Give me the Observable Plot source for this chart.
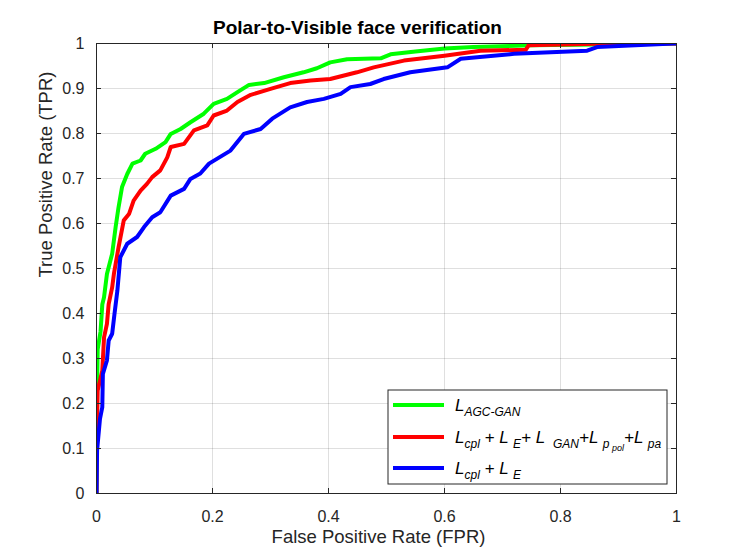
<!DOCTYPE html>
<html><head><meta charset="utf-8">
<script src="https://cdn.jsdelivr.net/npm/d3@7"></script>
<script src="https://cdn.jsdelivr.net/npm/@observablehq/plot@0.6"></script>
<style>
html,body{margin:0;padding:0;background:#fff}
#chart svg{display:block}
</style>
</head><body><div id="chart"></div>
<script>
// ---- data ----
const titleText = "Polar-to-Visible face verification";
const xLabelText = "False Positive Rate (FPR)";
const yLabelText = "True Positive Rate (TPR)";
const xTicks = [0, 0.2, 0.4, 0.6, 0.8, 1];
const yTicks = [0, 0.1, 0.2, 0.3, 0.4, 0.5, 0.6, 0.7, 0.8, 0.9, 1];
const seriesColors = ["#00ff00", "#ff0000", "#0000ff"];

const greenFPR = [0, 0, 0.001, 0.002, 0.007, 0.010, 0.013, 0.018, 0.027, 0.033, 0.038, 0.044, 0.053, 0.062, 0.076, 0.084, 0.102, 0.119, 0.128, 0.145, 0.162, 0.185, 0.202, 0.225, 0.243, 0.263, 0.289, 0.323, 0.357, 0.380, 0.403, 0.432, 0.490, 0.507, 0.550, 0.600, 0.650, 0.750, 0.860, 1];
const greenTPR = [0, 0.18, 0.23, 0.32, 0.36, 0.42, 0.436, 0.488, 0.533, 0.592, 0.636, 0.681, 0.710, 0.733, 0.740, 0.755, 0.766, 0.781, 0.799, 0.810, 0.825, 0.844, 0.866, 0.877, 0.892, 0.908, 0.912, 0.925, 0.936, 0.945, 0.958, 0.965, 0.967, 0.976, 0.982, 0.989, 0.992, 0.996, 0.998, 1];

const redFPR = [0, 0, 0.002, 0.010, 0.013, 0.018, 0.021, 0.027, 0.030, 0.038, 0.047, 0.056, 0.064, 0.076, 0.087, 0.096, 0.110, 0.122, 0.128, 0.151, 0.168, 0.191, 0.202, 0.225, 0.243, 0.266, 0.300, 0.334, 0.369, 0.403, 0.449, 0.478, 0.530, 0.600, 0.662, 0.740, 0.745, 0.880, 1];
const redTPR = [0, 0.09, 0.229, 0.273, 0.347, 0.377, 0.421, 0.458, 0.488, 0.547, 0.607, 0.621, 0.651, 0.673, 0.688, 0.703, 0.718, 0.747, 0.770, 0.777, 0.807, 0.818, 0.840, 0.851, 0.870, 0.886, 0.899, 0.912, 0.918, 0.921, 0.936, 0.947, 0.962, 0.973, 0.984, 0.986, 0.996, 1.0, 1];

const blueFPR = [0, 0.001, 0.006, 0.010, 0.011, 0.018, 0.021, 0.027, 0.031, 0.036, 0.041, 0.053, 0.070, 0.082, 0.096, 0.110, 0.128, 0.151, 0.162, 0.179, 0.194, 0.231, 0.254, 0.283, 0.303, 0.334, 0.363, 0.392, 0.421, 0.438, 0.472, 0.495, 0.541, 0.605, 0.628, 0.720, 0.846, 0.863, 0.995, 1];
const blueTPR = [0, 0.096, 0.166, 0.192, 0.266, 0.296, 0.340, 0.355, 0.399, 0.451, 0.525, 0.555, 0.570, 0.592, 0.614, 0.625, 0.662, 0.677, 0.699, 0.711, 0.733, 0.762, 0.799, 0.810, 0.833, 0.858, 0.870, 0.877, 0.888, 0.903, 0.910, 0.921, 0.936, 0.947, 0.966, 0.977, 0.984, 0.992, 1.0, 1];

// legend labels as [text, level] segments (0 = normal, 1 = subscript, 2 = sub-subscript)
const legendLabels = [
  [["L", 0], ["AGC-GAN", 1]],
  [["L", 0], ["cpl", 1], [" + L ", 0], ["E", 1], ["+ L ", 0], [" GAN", 1], ["+L ", 0], ["p", 1], [" pol", 2], ["+L ", 0], ["pa", 1]],
  [["L", 0], ["cpl", 1], [" + L ", 0], ["E", 1]]
];

// ---- build ----
const toRows = (xs, ys) => xs.map((x, i) => ({fpr: x, tpr: ys[i]}));
const seriesRows = [toRows(greenFPR, greenTPR), toRows(redFPR, redTPR), toRows(blueFPR, blueTPR)];

const W = 747, H = 554, mL = 96, mR = 71, mT = 43, mB = 61;
const fw = W - mL - mR, fh = H - mT - mB;
const axisColor = "#262626";
const font = "'Liberation Sans', Arial, Helvetica, sans-serif";
const fmt = d => String(+d.toFixed(1));

const plot = Plot.plot({
  width: W, height: H,
  marginLeft: mL, marginRight: mR, marginTop: mT, marginBottom: mB,
  style: {fontFamily: font, background: "#fff", color: axisColor, overflow: "visible"},
  x: {domain: [0, 1]},
  y: {domain: [0, 1]},
  marks: [
    Plot.gridX(xTicks, {stroke: axisColor, strokeOpacity: 0.15, strokeWidth: 1}),
    Plot.gridY(yTicks, {stroke: axisColor, strokeOpacity: 0.15, strokeWidth: 1}),
    ...seriesRows.map((rows, i) => Plot.line(rows, {x: "fpr", y: "tpr", stroke: seriesColors[i], strokeWidth: 4, clip: true})),
    Plot.frame({stroke: axisColor, strokeWidth: 1}),
    Plot.tickX(xTicks, {x: d => d, insetTop: fh - 5, stroke: axisColor}),
    Plot.tickX(xTicks, {x: d => d, insetBottom: fh - 5, stroke: axisColor}),
    Plot.tickY(yTicks, {y: d => d, insetRight: fw - 5, stroke: axisColor}),
    Plot.tickY(yTicks, {y: d => d, insetLeft: fw - 5, stroke: axisColor}),
    Plot.axisX(xTicks, {tickSize: 0, tickPadding: 17, fontSize: 16, label: null, tickFormat: fmt, fill: axisColor}),
    Plot.axisY(yTicks, {tickSize: 0, tickPadding: 12, fontSize: 16, label: null, tickFormat: fmt, fill: axisColor}),
    Plot.text([titleText], {frameAnchor: "top", dy: -16, dx: -29, fontSize: 19, fontWeight: "bold", lineAnchor: "middle", fill: "#000"}),
    Plot.text([xLabelText], {frameAnchor: "bottom", dy: 44, dx: -8, fontSize: 18.5, lineAnchor: "middle", fill: axisColor}),
    Plot.text([yLabelText], {frameAnchor: "left", dx: -50, dy: 9, rotate: -90, fontSize: 18.5, lineAnchor: "middle", fill: axisColor})
  ]
});

// ---- legend (MATLAB-style box inside the axes, lower right) ----
const svg = d3.select(plot);
const lgRight = W - mR - 9, lgBottom = H - mB - 9;
const lgW = 279, lgH = 94;
const lgX = lgRight - lgW, lgY = lgBottom - lgH;
const lg = svg.append("g").attr("font-family", font).attr("text-anchor", "start");
lg.append("rect").attr("x", lgX).attr("y", lgY).attr("width", lgW).attr("height", lgH)
  .attr("fill", "#fff").attr("stroke", axisColor).attr("stroke-width", 1);
const rowY = [15, 47, 78];
const sizes = [17, 12, 9], shifts = [0, 5, 8];
legendLabels.forEach((segs, i) => {
  const y = lgY + rowY[i];
  lg.append("line").attr("x1", lgX + 5).attr("x2", lgX + 56).attr("y1", y).attr("y2", y)
    .attr("stroke", seriesColors[i]).attr("stroke-width", 4);
  const t = lg.append("text").attr("x", lgX + 67).attr("y", y + 6)
    .attr("text-anchor", "start").attr("xml:space", "preserve")
    .attr("font-style", "italic").attr("fill", "#000").style("white-space", "pre");
  let cur = 0;
  segs.forEach(([s, lvl]) => {
    t.append("tspan").attr("dy", shifts[lvl] - cur).attr("font-size", sizes[lvl]).text(s);
    cur = shifts[lvl];
  });
});

document.getElementById("chart").appendChild(plot);
</script>
</body></html>
